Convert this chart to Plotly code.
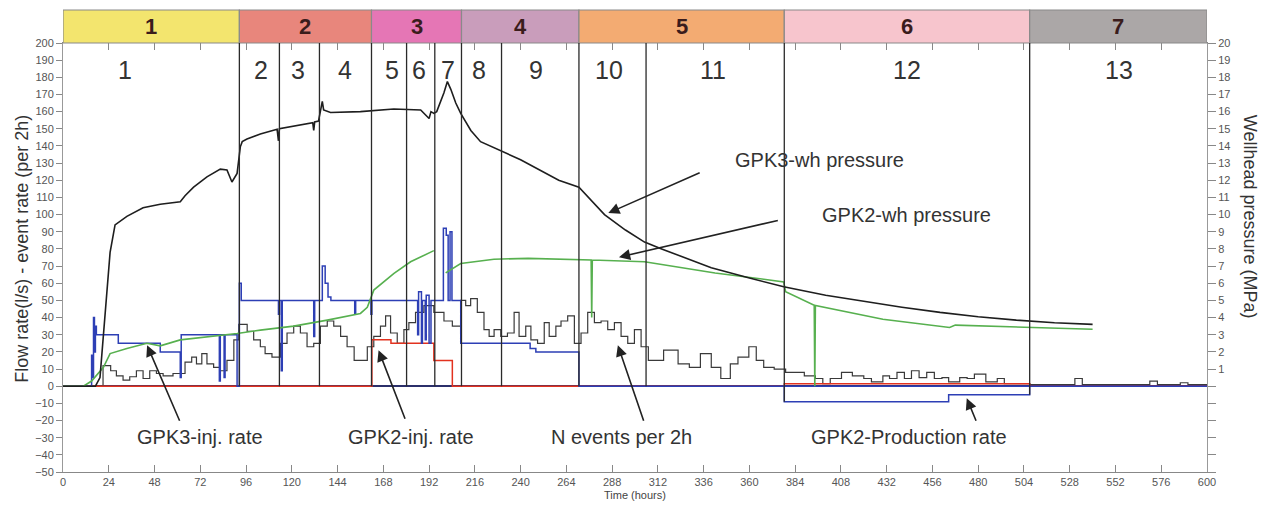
import plotly.graph_objects as go

# ---------------- data ----------------
# phases (top band)
phase_names = ["1", "2", "3", "4", "5", "6", "7"]
phase_edges = [0, 92.5, 161.8, 209, 270.6, 378.3, 507, 600]
phase_colors = ["#f3e56e", "#e8867c", "#e576b5", "#c99dbb", "#f3ab72", "#f7c5cd", "#aba7a7"]

# sub-phase boundaries and labels
bnd_t = [92.5, 113.5, 134.5, 161.8, 180.2, 195, 209, 230, 270.6, 305.8, 378.3, 507]
bnd_bottom = [0, 0, 0, 0, 0, 0, 0, 0, 0, 0, -9, -5]
sub_names = ["1", "2", "3", "4", "5", "6", "7", "8", "9", "10", "11", "12", "13"]
sub_t = [32.6, 104, 123, 147.7, 172.4, 186.5, 201.8, 218, 248, 286.4, 341, 442.5, 554]

# GPK3 wellhead pressure (MPa)
gpk3p_t = [0, 17, 19.4, 22, 24.7, 27.3, 33.5, 42, 51, 61.5, 64, 68.5, 75.5, 82.5, 86, 88.6,
           91.3, 93, 94, 96.5, 103.5, 112.3, 113, 113.5, 121, 131, 131.5, 132, 134, 136, 136.7,
           140.3, 156, 173.5, 187.6, 192, 193, 194.5, 196, 199.8, 201.6, 203.4, 206, 208.6,
           213.9, 219, 240, 260, 270.6, 284, 295, 305, 314, 340, 360, 378, 400, 420, 440,
           460, 480, 500, 520, 540]
gpk3p_v = [0, 0, 0.5, 4.3, 7.8, 9.4, 9.9, 10.4, 10.6, 10.75, 11.1, 11.6, 12.2, 12.65, 12.6, 11.9,
           12.4, 13.95, 14.25, 14.4, 14.7, 14.97, 14.3, 15.0, 15.16, 15.35, 14.9, 15.4, 15.45, 16.6, 16.1,
           15.95, 16.0, 16.15, 16.1, 15.6, 16.0, 15.9, 16.0, 17.1, 17.75, 17.3, 16.5, 15.9,
           14.9, 14.25, 13.2, 12.0, 11.6, 10.0, 9.1, 8.4, 8.0, 6.9, 6.3, 5.8, 5.3, 4.95, 4.6,
           4.3, 4.05, 3.85, 3.7, 3.6]

# GPK2 wellhead pressure (MPa)
gpk2p_t = [0, 10.7, 15, 21.2, 24.7, 33.5, 44, 51, 61.5, 77.2, 91.3, 103.5, 121, 138.6, 156,
           159.6, 163, 173.6, 182.3, 194.5, 197, 200.7, 208.6, 226, 244, 277, 277.3, 277.6,
           305, 342, 378, 379, 394, 394.3, 394.6, 430, 465, 468, 540]
gpk2p_v = [0, 0, 0.3, 1.1, 1.9, 2.2, 2.5, 2.35, 2.7, 2.9, 3.07, 3.27, 3.5, 3.85, 4.24,
           4.6, 5.6, 6.57, 7.25, 7.9, None, 6.6, 7.15, 7.4, 7.45, 7.35, 4.0, 7.35,
           7.25, 6.6, 6.08, 5.5, 4.72, 0, 4.7, 3.9, 3.42, 3.56, 3.32]

# GPK3 injection rate (l/s), step
gpk3i_t = [0, 15, 15.5, 16, 16.5, 17, 17.5, 18, 29, 51,
           61.5, 62, 82, 82.5, 84.5, 85, 91.3, 92.5, 93.5, 113,
           113.5, 114.5, 115, 131.5, 132, 136, 137.5, 139, 140.5, 153,
           153.5, 161.5, 162, 186, 186.5, 188, 188.5, 190, 190.5, 192,
           193, 199.5, 201, 202, 203, 204, 208.6, 245, 248, 270.6,
           600]
gpk3i_v = [0, 18, 5, 40, 20, 35, 30, 30, 25, 20,
           5, 30, 3, 30, 5, 30, 0, 60, 50, 42,
           50, 9, 50, 29, 50, 70, 60, 52, 50, 42,
           50, 42, 50, 30, 55, 25, 50, 27, 53, 25,
           50, 92, 88, 50, 90, 50, 25, 22, 20, 0,
           0]

# GPK2 injection rate (l/s), step
gpk2i_t = [0, 162, 172, 194.5, 204.2, 378.3, 507, 600]
gpk2i_v = [0, 27, 25, 15, 0, 1.5, 0, 0]

# GPK2 production rate (l/s), step
prod_t = [377, 378.3, 464.5, 507]
prod_v = [0, -9, -5, 0]

# number of events per 2h, step
ev_t = [0, 21, 25, 28, 31.5, 35, 38.5, 42, 45.5, 49,
        52.5, 57.7, 64, 67.5, 70, 72.8, 75.5, 79, 82.5, 86,
        89.6, 92.2, 96.6, 100, 103.5, 106, 109.6, 114, 117.5, 121,
        124.5, 128, 131.5, 135, 138.6, 142, 145.6, 149, 152.7, 156,
        159.6, 163, 166.5, 169.2, 171.8, 175.3, 178.8, 181.4, 184.9, 189.3,
        194.5, 199.8, 204.2, 208.6, 211.2, 213.8, 217.3, 220.8, 223.5, 226.1,
        229.6, 233.1, 236.6, 239.2, 242.7, 245.4, 248.9, 252.4, 255, 258.5,
        261.2, 264.7, 268.2, 271.7, 275.2, 278.7, 282.2, 285.7, 289.2, 292.7,
        296.2, 299.7, 303.2, 307, 315, 322.6, 328.5, 334.3, 340, 345,
        350, 354, 359.7, 363.6, 367.5, 373, 379, 388.8, 394.6, 398.5,
        402.4, 408.3, 414, 420, 424, 430, 433.5, 437.4, 441.3, 445,
        449, 453, 457, 461, 464.5, 470.3, 474.2, 478, 484, 490,
        493.7, 507, 530.7, 534.6, 570, 574, 586, 590, 600]
ev_v = [0, 12, 9, 6, 3.5, 5.5, 9, 4.5, 9, 7.4,
        6, 7.4, 14, 17, 13, 19, 13, 11, 9, 15,
        27, 36, 32, 27, 23, 19, 17, 25, 31, 35,
        31, 23, 25, 35, 38, 35, 29, 23, 15, 15,
        23, 29, 35, 41, 31, 25, 33, 37, 43, 47,
        43, 38, 35, 50, 47, 51, 43, 33, 29, 33,
        29, 31, 43, 29, 35, 27, 25, 37, 29, 35,
        38, 41, 25, 31, 43, 37, 38, 33, 37, 29,
        25, 33, 23, 15, 21, 13, 11, 19, 11, 4.5,
        13, 17, 23, 15, 11, 10, 8, 6, 4.5, 1.5,
        4.5, 8, 6, 4.5, 2.5, 6, 4.5, 8, 4.5, 9,
        5, 8, 4.5, 5, 2.5, 5, 4.5, 7, 2.5, 4.5,
        1.5, 1, 4.5, 1, 3, 1, 2, 1, 1]

x_ticks = list(range(0, 601, 24))
y_ticks = list(range(-50, 201, 10))
y2_ticks = list(range(-5, 21))
y2_text = ["" if v <= 0 else str(v) for v in y2_ticks]

# ---------------- figure ----------------
FONT = "Liberation Sans, Arial, sans-serif"
fig = go.Figure()

fig.add_trace(go.Scatter(x=ev_t, y=ev_v, mode="lines", line=dict(color="#3a3a3a", width=1.2, shape="hv"),
                         name="N events per 2h"))
fig.add_trace(go.Scatter(x=gpk2i_t, y=gpk2i_v, mode="lines", line=dict(color="#e2321f", width=1.5, shape="hv"),
                         name="GPK2-inj. rate"))
fig.add_trace(go.Scatter(x=gpk3i_t, y=gpk3i_v, mode="lines", line=dict(color="#2d3fb5", width=1.5, shape="hv"),
                         name="GPK3-inj. rate"))
fig.add_trace(go.Scatter(x=prod_t, y=prod_v, mode="lines", line=dict(color="#2d3fb5", width=1.5, shape="hv"),
                         name="GPK2-Production rate"))
fig.add_trace(go.Scatter(x=gpk2p_t, y=gpk2p_v, mode="lines", line=dict(color="#57b04f", width=1.6),
                         connectgaps=False, yaxis="y2", name="GPK2-wh pressure"))
fig.add_trace(go.Scatter(x=gpk3p_t, y=gpk3p_v, mode="lines", line=dict(color="#1e1e1e", width=1.6),
                         yaxis="y2", name="GPK3-wh pressure"))

shapes = []
band_h = 33 / 429
for i, name in enumerate(phase_names):
    shapes.append(dict(type="rect", xref="x", yref="paper", x0=phase_edges[i], x1=phase_edges[i + 1],
                       y0=1.0, y1=1.0 + band_h, fillcolor=phase_colors[i],
                       line=dict(color="#8a8a8a", width=1.2), layer="above"))
for t, yb in zip(bnd_t, bnd_bottom):
    shapes.append(dict(type="line", xref="x", yref="y", x0=t, x1=t, y0=yb, y1=200,
                       line=dict(color="#2a2a2a", width=1.3)))

annotations = []
for i, name in enumerate(phase_names):
    annotations.append(dict(x=(phase_edges[i] + phase_edges[i + 1]) / 2, y=1.0 + band_h / 2,
                            xref="x", yref="paper", text="<b>%s</b>" % name, showarrow=False,
                            xanchor="center", yanchor="middle",
                            font=dict(family=FONT, size=22, color="#3a1c1c")))
for name, t in zip(sub_names, sub_t):
    annotations.append(dict(x=t, y=184, xref="x", yref="y", text=name, showarrow=False,
                            xanchor="center", yanchor="middle",
                            font=dict(family=FONT, size=25, color="#333333")))

labels = [
    ("GPK3-wh pressure", 396.7, 131.8),
    ("GPK2-wh pressure", 442.5, 99.7),
    ("GPK3-inj. rate", 72, -29.7),
    ("GPK2-inj. rate", 182.3, -29.7),
    ("N events per 2h", 292.7, -29.7),
    ("GPK2-Production rate", 443.5, -29.7),
]
for txt, x, y in labels:
    annotations.append(dict(x=x, y=y, xref="x", yref="y", text=txt, showarrow=False,
                            xanchor="center", yanchor="middle",
                            font=dict(family=FONT, size=20, color="#333333")))

arrows = [
    (286, 100.9, 334.7, 124.8),
    (291.6, 75.2, 375.7, 96.8),
    (44.1, 23.9, 61.5, -21),
    (165.5, 21, 179.7, -19.8),
    (291, 23.9, 304.8, -21),
    (474, -7, 479.2, -21),
]
for hx, hy, tx, ty in arrows:
    annotations.append(dict(x=hx, y=hy, ax=tx, ay=ty, xref="x", yref="y", axref="x", ayref="y",
                            text="", showarrow=True, arrowhead=2, arrowsize=1.4, arrowwidth=1.6,
                            arrowcolor="#222222"))

annotations.append(dict(x=-0.036, y=0.52, xref="paper", yref="paper", text="Flow rate(l/s) - event rate (per 2h)",
                        textangle=-90, showarrow=False, xanchor="center", yanchor="middle",
                        font=dict(family=FONT, size=18, color="#333333")))
annotations.append(dict(x=1.037, y=0.594, xref="paper", yref="paper", text="Wellhead pressure (MPa)",
                        textangle=90, showarrow=False, xanchor="center", yanchor="middle",
                        font=dict(family=FONT, size=18, color="#333333")))
annotations.append(dict(x=0.5, y=-0.054, xref="paper", yref="paper", text="Time (hours)",
                        showarrow=False, xanchor="center", yanchor="middle",
                        font=dict(family=FONT, size=11, color="#444444")))

fig.update_layout(
    width=1269, height=509, autosize=False,
    margin=dict(l=63, r=62, t=43, b=37),
    paper_bgcolor="white", plot_bgcolor="white",
    showlegend=False,
    shapes=shapes, annotations=annotations,
    font=dict(family=FONT, size=11, color="#555555"),
    xaxis=dict(range=[0, 600], tickvals=x_ticks, ticks="inside", ticklen=7, tickcolor="#888888",
               showline=True, linecolor="#888888", mirror="ticks", showgrid=False, zeroline=False,
               tickfont=dict(size=11, color="#555555")),
    yaxis=dict(range=[-50, 200], tickvals=y_ticks, ticks="outside", ticklen=6, tickcolor="#888888",
               showline=True, linecolor="#999999", showgrid=False, zeroline=True,
               zerolinecolor="#2b2f6a", zerolinewidth=1.5, tickfont=dict(size=11, color="#555555")),
    yaxis2=dict(range=[-5, 20], overlaying="y", side="right", tickvals=y2_ticks, ticktext=y2_text,
                ticks="outside", ticklen=8, tickcolor="#888888", showline=True, linecolor="#999999",
                showgrid=False, zeroline=False, tickfont=dict(size=11, color="#555555")),
)

fig.write_html("out.html")
